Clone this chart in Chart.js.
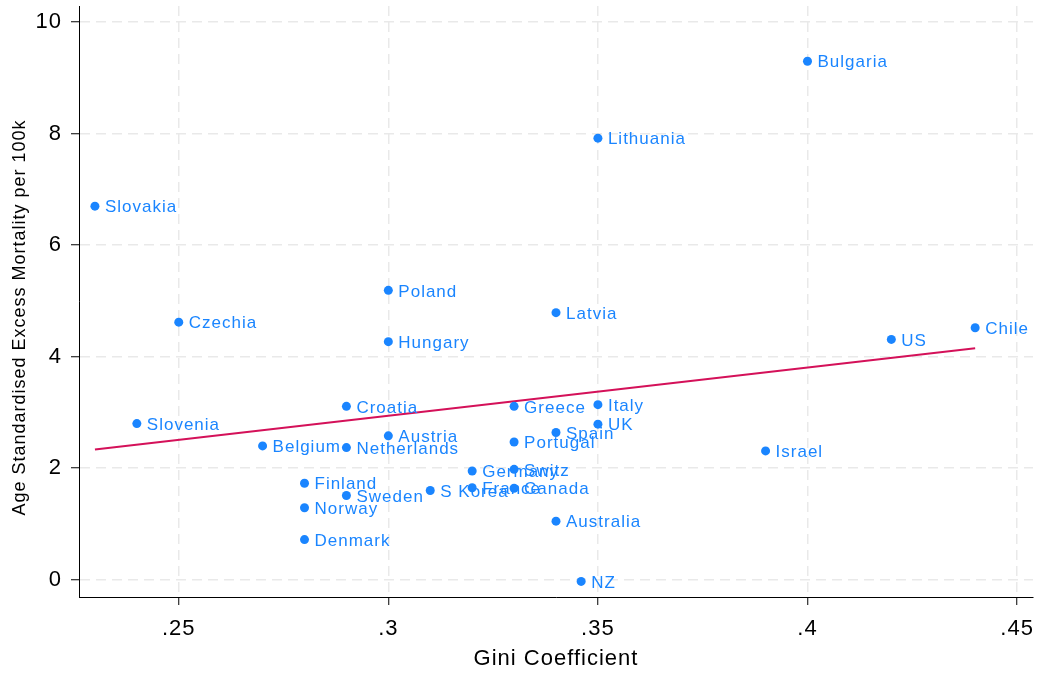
<!DOCTYPE html>
<html>
<head>
<meta charset="utf-8">
<script src="https://cdn.jsdelivr.net/npm/chart.js@4/dist/chart.umd.min.js"></script>
<style>
  html, body { margin: 0; padding: 0; background: #fff; }
  #wrap { width: 1038px; height: 673px; }
</style>
</head>
<body>
<div id="wrap"><canvas id="giniChart"></canvas></div>
<script>
const countries = ['Bulgaria', 'Lithuania', 'Slovakia', 'Poland', 'Czechia', 'Latvia', 'Chile', 'US',
    'Hungary', 'Croatia', 'Greece', 'Italy', 'Slovenia', 'UK', 'Spain', 'Austria', 'Portugal',
    'Belgium', 'Netherlands', 'Israel', 'Germany', 'Switz', 'Finland', 'France', 'Canada',
    'S Korea', 'Sweden', 'Norway', 'Australia', 'Denmark', 'NZ'];
const gini = [0.40, 0.35, 0.23, 0.30, 0.25, 0.34, 0.44, 0.42,
    0.30, 0.29, 0.33, 0.35, 0.24, 0.35, 0.34, 0.30, 0.33,
    0.27, 0.29, 0.39, 0.32, 0.33, 0.28, 0.32, 0.33,
    0.31, 0.29, 0.28, 0.34, 0.28, 0.346];
const excessMortality = [9.30, 7.92, 6.70, 5.19, 4.62, 4.79, 4.52, 4.31,
    4.27, 3.11, 3.11, 3.14, 2.80, 2.79, 2.64, 2.58, 2.47,
    2.40, 2.37, 2.31, 1.95, 1.98, 1.73, 1.65, 1.64,
    1.60, 1.51, 1.29, 1.05, 0.72, -0.03];

// fitted line end points
const fitX = [0.23, 0.44];
const fitY = [2.335, 4.15];

const xTicks = [0.25, 0.3, 0.35, 0.4, 0.45];
const xTickLabels = ['.25', '.3', '.35', '.4', '.45'];
const yTicks = [0, 2, 4, 6, 8, 10];
const yTickLabels = ['0', '2', '4', '6', '8', '10'];
const yTitle = 'Age Standardised Excess Mortality per 100k';

const FONT = '"Liberation Sans", Arial, Helvetica, sans-serif';
const BLUE = '#1a85ff';
const RED = '#d41159';

const letterSpacing = {
    id: 'letterSpacing',
    beforeDraw(chart) {
        chart.ctx.letterSpacing = '1px';
    }
};

const countryLabels = {
    id: 'countryLabels',
    afterDatasetsDraw(chart) {
        const meta = chart.getDatasetMeta(0);
        const ctx = chart.ctx;
        ctx.save();
        ctx.font = '17px ' + FONT;
        ctx.fillStyle = BLUE;
        ctx.textAlign = 'left';
        ctx.textBaseline = 'middle';
        meta.data.forEach(function (pt, i) {
            ctx.fillText(countries[i], pt.x + 10, pt.y + 1.5);
        });
        ctx.restore();
    }
};

// y title sits a little below the plot centre in the original
const yAxisTitle = {
    id: 'yAxisTitle',
    afterDraw(chart) {
        const area = chart.chartArea;
        const ctx = chart.ctx;
        ctx.save();
        ctx.translate(20, (area.top + area.bottom) / 2 + 16);
        ctx.rotate(-Math.PI / 2);
        ctx.font = '18px ' + FONT;
        ctx.fillStyle = '#000';
        ctx.textAlign = 'center';
        ctx.textBaseline = 'middle';
        ctx.fillText(yTitle, 0, 0);
        ctx.restore();
    }
};

const gridStyle = {
    color: '#e9e9e9',
    lineWidth: 1.5,
    tickColor: '#000',
    tickBorderDash: [],
    tickWidth: 1,
    tickLength: 8
};

const borderStyle = { display: true, color: '#000', width: 1, dash: [10, 6] };

new Chart(document.getElementById('giniChart').getContext('2d'), {
    type: 'scatter',
    data: {
        datasets: [{
            data: gini.map((g, i) => ({ x: g, y: excessMortality[i] })),
            backgroundColor: BLUE,
            borderWidth: 0,
            pointRadius: 4.5
        }, {
            type: 'line',
            data: fitX.map((x, i) => ({ x: x, y: fitY[i] })),
            borderColor: RED,
            borderWidth: 2,
            pointRadius: 0,
            fill: false
        }]
    },
    options: {
        responsive: true,
        maintainAspectRatio: false,
        animation: false,
        events: [],
        layout: { padding: { top: 6, right: 5, left: 0, bottom: 0 } },
        plugins: {
            legend: { display: false },
            tooltip: { enabled: false }
        },
        scales: {
            x: {
                type: 'linear',
                min: 0.2262,
                max: 0.4538,
                afterBuildTicks: function (scale) {
                    scale.ticks = xTicks.map(v => ({ value: v }));
                },
                afterFit: function (scale) {
                    scale.height = 76;
                    scale.paddingLeft = 0;
                    scale.paddingRight = 0;
                },
                ticks: {
                    autoSkip: false,
                    maxRotation: 0,
                    padding: 11,
                    color: '#000',
                    font: { family: FONT, size: 22 },
                    callback: function (value) {
                        const i = xTicks.indexOf(value);
                        return i >= 0 ? xTickLabels[i] : '';
                    }
                },
                grid: gridStyle,
                border: borderStyle,
                title: {
                    display: true,
                    text: 'Gini Coefficient',
                    color: '#000',
                    font: { family: FONT, size: 22 },
                    padding: { top: 0, bottom: 1 }
                }
            },
            y: {
                type: 'linear',
                min: -0.31,
                max: 10.29,
                afterBuildTicks: function (scale) {
                    scale.ticks = yTicks.map(v => ({ value: v }));
                },
                afterFit: function (scale) {
                    scale.width = 79;
                    scale.paddingTop = 0;
                    scale.paddingBottom = 0;
                },
                ticks: {
                    autoSkip: false,
                    padding: 9,
                    color: '#000',
                    font: { family: FONT, size: 22 },
                    callback: function (value) {
                        const i = yTicks.indexOf(value);
                        return i >= 0 ? yTickLabels[i] : '';
                    }
                },
                grid: gridStyle,
                border: borderStyle,
                title: { display: false }
            }
        }
    },
    plugins: [letterSpacing, countryLabels, yAxisTitle]
});
</script>
</body>
</html>
